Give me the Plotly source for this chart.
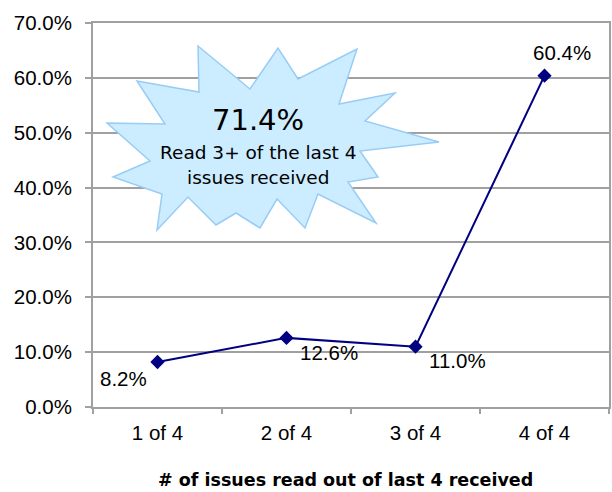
import plotly.graph_objects as go

# ---- data ----
categories = ["1 of 4", "2 of 4", "3 of 4", "4 of 4"]
values = [0.082, 0.126, 0.110, 0.604]
value_labels = ["8.2%", "12.6%", "11.0%", "60.4%"]
callout_value = "71.4%"
callout_lines = ["Read 3+ of the last 4", "issues received"]
x_title = "# of issues read out of last 4 received"

# ---- layout geometry (pixels) ----
W, H = 612, 492
ML, MR, MT, MB = 93, 3, 23, 85
PW, PH = W - ML - MR, H - MT - MB

def px(x):
    return (x - ML) / PW

def py(y):
    return (H - MB - y) / PH

NAVY = "#000080"
GRID = "#A0A0A0"
TICK_FONT = dict(family="Arial", size=20.5, color="black")
CALLOUT_FAMILY = "DejaVu Sans"

fig = go.Figure()
fig.add_trace(go.Scatter(
    x=categories, y=values, mode="lines+markers",
    line=dict(color=NAVY, width=2),
    marker=dict(symbol="diamond", size=11, color=NAVY),
    hoverinfo="skip", showlegend=False,
))

# data labels (offsets in pixels)
label_offsets = [(-34, -16), (42, -15), (42, -14), (17, 23)]
for c, v, t, (dx, dy) in zip(categories, values, value_labels, label_offsets):
    fig.add_annotation(x=c, y=v, text=t, showarrow=False, xshift=dx, yshift=dy,
                       font=TICK_FONT, xanchor="center", yanchor="middle")

# starburst callout (pixel vertices)
star = [(137, 81), (199, 92), (198, 46), (250, 89), (278, 48), (298, 79), (357, 49),
        (339, 104), (395, 93), (365, 121), (439, 142), (360, 151), (378, 177), (348, 182),
        (376, 223), (318, 194), (305, 228), (277, 199), (260, 228), (236, 213), (216, 225),
        (188, 197), (157, 230), (162, 194), (113, 177), (150, 161), (107, 123), (165, 124)]
path = "M " + " L ".join(f"{px(x):.5f},{py(y):.5f}" for x, y in star) + " Z"
fig.add_shape(type="path", path=path, xref="paper", yref="paper",
              fillcolor="#CCECFF", line=dict(color="#99CCF5", width=1.5), layer="above")

fig.add_annotation(x=px(258), y=py(120), xref="paper", yref="paper", text=callout_value,
                   showarrow=False, xanchor="center", yanchor="middle",
                   font=dict(family=CALLOUT_FAMILY, size=29, color="black"))
for i, line in enumerate(callout_lines):
    fig.add_annotation(x=px(258), y=py(152 + 25 * i), xref="paper", yref="paper", text=line,
                       showarrow=False, xanchor="center", yanchor="middle",
                       font=dict(family=CALLOUT_FAMILY, size=18.5, color="black"))

# x-axis title
fig.add_annotation(x=px(345), y=py(480), xref="paper", yref="paper", text=f"<b>{x_title}</b>",
                   showarrow=False, xanchor="center", yanchor="middle", borderpad=0,
                   font=dict(family=CALLOUT_FAMILY, size=17.5, color="black"))

fig.update_layout(
    width=W, height=H,
    margin=dict(l=ML, r=MR, t=MT, b=MB, pad=0, autoexpand=False),
    paper_bgcolor="white", plot_bgcolor="white",
    showlegend=False,
)
fig.update_xaxes(
    type="category", range=[-0.5, 3.5], automargin=False,
    showline=True, linecolor=GRID, linewidth=2, mirror=True,
    showgrid=False, zeroline=False,
    ticks="outside", ticklen=5, tickwidth=2, tickcolor=GRID, tickson="boundaries",
    tickfont=TICK_FONT, ticklabelstandoff=6,
)
fig.update_yaxes(
    range=[0, 0.7], dtick=0.1, tickformat=".1%", automargin=False,
    showline=True, linecolor=GRID, linewidth=2, mirror=True,
    showgrid=True, gridcolor=GRID, gridwidth=2, zeroline=False,
    ticks="outside", ticklen=6, tickwidth=2, tickcolor=GRID,
    tickfont=TICK_FONT, ticklabelstandoff=9,
)

fig.write_html("out.html", config={"displayModeBar": False},
               post_script="document.body.style.margin='0';document.body.style.overflow='hidden';")
